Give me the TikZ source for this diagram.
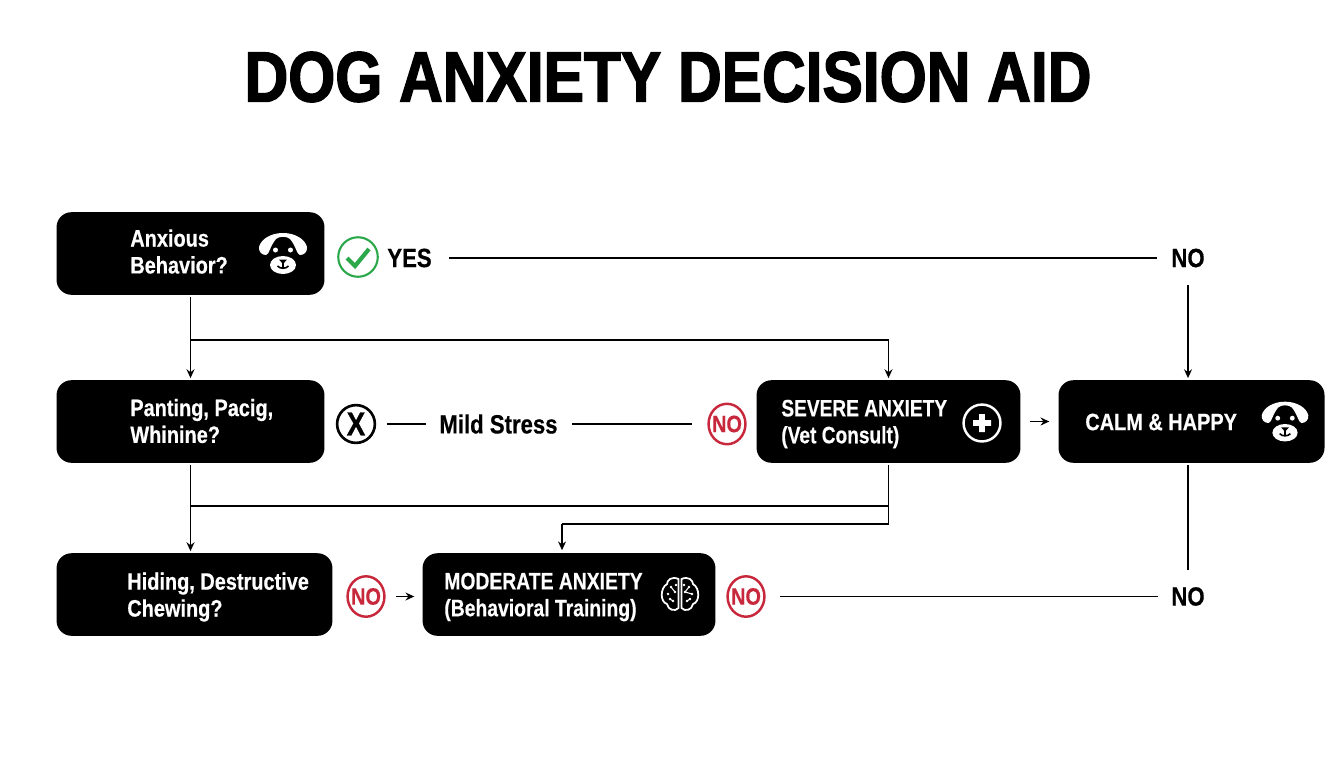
\documentclass[tikz,border=0pt]{standalone}
\usepackage{fontspec}
\setmainfont{Liberation Sans}[FakeStretch=0.84,BoldFont=* Bold,BoldFeatures={FakeBold=0.5}]
\newfontfamily\titlefont{Liberation Sans Bold}[FakeStretch=0.85,FakeBold=2]
\usetikzlibrary{arrows.meta,shapes.geometric}

\definecolor{nored}{HTML}{C8283C}
\definecolor{yesgreen}{HTML}{2BA84A}
\tikzset{
  qbox/.style={fill=black,rounded corners=8.5pt,minimum height=47pt,inner sep=0pt},
  boxtext/.style={text=white,font=\fontsize{13.5}{15.3}\selectfont\bfseries,align=left,anchor=west,inner sep=0pt},
  plaintext/.style={text=black,font=\fontsize{15}{16}\selectfont\bfseries,inner sep=0pt},
  noring/.style={draw=nored,line width=1.4pt,ellipse,minimum width=21pt,minimum height=23pt,inner sep=-3pt,text=nored,
    font=\fontsize{13.5}{14}\selectfont\bfseries},
  flow/.style={line width=1pt,black},
  flowarrow/.style={flow,-{Stealth[length=5pt,width=4.5pt]}},
  dogicon/.pic={
    \fill[white] (-24,-8) .. controls (-22,-16) and (-12,-22) .. (0,-22)
      .. controls (12,-22) and (22,-16) .. (24,-8) .. controls (24.5,-3) and (21,0) .. (17,0)
      .. controls (14,0) and (13,-9) .. (7,-16) .. controls (4,-19) and (-4,-19) .. (-7,-16)
      .. controls (-13,-9) and (-14,0) .. (-17,0) .. controls (-21,0) and (-24.5,-3) .. (-24,-8) -- cycle;
    \fill[white] (0,10) ellipse [x radius=13,y radius=9];
    \fill[white] (-7.5,-5) circle [radius=2.5] (7.5,-5) circle [radius=2.5];
    \fill[black] (-4,4.5) -- (4,4.5) -- (0,9) -- cycle;
    \draw[black,line width=0.9pt] (-5.5,11) .. controls (-3,14) and (3,14) .. (5.5,11) (0,8) -- (0,12.5);
  },
  brainicon/.pic={
    \draw[white,line width=1pt] (-1.5,-17) .. controls (-8,-20) and (-13,-16) .. (-13,-12)
      .. controls (-20,-8) and (-20,6) .. (-13,8) .. controls (-12,14) and (-5,16) .. (-1.5,12) -- cycle;
    \draw[white,line width=1pt] (1.5,-17) .. controls (8,-20) and (13,-16) .. (13,-12)
      .. controls (20,-8) and (20,6) .. (13,8) .. controls (12,14) and (5,16) .. (1.5,12) -- cycle;
    \foreach \dx/\dy in {-9/-9,-5/-4,-12/-2,-7/5,-4/-11,-10/3,9/-9,5/-4,12/-2,7/5,4/-11,10/3}
      \fill[white] (\dx,\dy) circle [radius=1.3];
    \draw[white,line width=0.6pt] (-9,-9) -- (-5,-4) (-7,5) -- (-10,3) (9,-9) -- (5,-4) (7,5) -- (10,3) (5,-4) -- (12,-2);
  },
}

\begin{document}
\begin{tikzpicture}[x=0.02cm,y=-0.02cm]
\useasboundingbox (0,0) rectangle (1344,768);

\node[font=\fontsize{40.5}{44}\titlefont,inner sep=0pt] (title) at (668,77) {DOG ANXIETY DECISION AID};

% boxes
\node[qbox,minimum width=152.5pt] (anx) at (190.5,253.5) {};
\node[qbox,minimum width=152.5pt] (pant) at (190.5,421.5) {};
\node[qbox,minimum width=157pt] (hide) at (194.5,594.5) {};
\node[qbox,minimum width=166.7pt] (mod) at (569,594.5) {};
\node[qbox,minimum width=150.2pt] (sev) at (888.5,421.5) {};
\node[qbox,minimum width=151.4pt] (calm) at (1191.5,421.5) {};

\node[boxtext] (anxtext) at (130,251.5) {Anxious\\Behavior?};
\node[boxtext] (panttext) at (130,421) {Panting, Pacig,\\Whinine?};
\node[boxtext] (hidetext) at (127,597) {Hiding, Destructive\\Chewing?};
\node[boxtext,xscale=0.97] (modtext) at (444,597) {MODERATE ANXIETY\\(Behavioral Training)};
\node[boxtext,xscale=0.96] (sevtext) at (781,424) {SEVERE ANXIETY\\(Vet Consult)};
\node[boxtext] (calmtext) at (1085,422) {CALM \& HAPPY};

% icons
\pic at (283,255) {dogicon};
\pic[scale=0.97] at (1285,423) {dogicon};
\pic at (680,596) {brainicon};
\node[circle,draw=white,line width=1.4pt,minimum size=21pt,inner sep=0pt] (plus) at (982,423) {};
\fill[white] (plus.center) ++(-9,-2.8) rectangle ++(18,5.6) (plus.center) ++(-2.8,-9) rectangle ++(5.6,18);

% marks and labels
\node[circle,draw=yesgreen,line width=1.2pt,minimum size=22.5pt,inner sep=0pt] (yesmark) at (358,257) {};
\draw[yesgreen,line width=2.4pt] (347,258) -- (355,266) -- (369,249);
\node[plaintext,anchor=west] (yes) at (387,258) {YES};
\node[plaintext] (noa) at (1188,258) {NO};
\node[plaintext] (nob) at (1188,596.5) {NO};
\node[circle,draw=black,line width=1.5pt,minimum size=21.5pt,inner sep=0pt,font=\fontsize{19}{20}\selectfont\bfseries] (xmark) at (356,424) {X};
\node[plaintext] (mild) at (498.5,424) {Mild Stress};
\node[noring] (noc) at (727,424) {NO};
\node[noring] (nod) at (366,596.5) {NO};
\node[noring] (noe) at (746,596.5) {NO};

% connectors
\coordinate (juna) at (190.5,340);
\coordinate (junb) at (190.5,506);
\coordinate (junc) at (888.5,506);
\coordinate (jund) at (888.5,524);
\coordinate (june) at (562,524);
\coordinate (yesend) at (449,258);
\coordinate (modtop) at (562,552);

\draw[flowarrow,shorten <=1pt,shorten >=1pt] (anx.south) -- (pant.north);
\draw[flowarrow,shorten >=1pt] (juna) -| (sev.north);
\draw[flowarrow,shorten <=1pt,shorten >=1pt] (pant.south) -- (pant.south |- hide.north);
\draw[flow] (junb) -- (junc);
\draw[flow,shorten <=1pt] (sev.south) -- (jund) -- (june);
\draw[flowarrow,shorten >=1pt] (june) -- (modtop);
\draw[flow,shorten >=17.5pt] (yesend) -- (noa.center);
\draw[flowarrow,shorten >=1pt] (noa.south) ++(0,17) -- (noa.south |- calm.north);
\draw[flow,shorten <=6pt,shorten >=7.4pt] (xmark) -- (mild);
\draw[flow,shorten <=8pt,shorten >=8.5pt] (mild) -- (noc);
\draw[flowarrow,shorten <=5pt,shorten >=5pt] (sev.east) -- (calm.west);
\draw[flowarrow,shorten <=6pt,shorten >=4.5pt] (nod) -- (mod.west |- nod);
\draw[flow,shorten <=8pt,shorten >=7.4pt] (noe) -- (nob);
\draw[flow,shorten <=1pt,shorten >=15.3pt] (calm.south -| nob) -- (nob.center);
\end{tikzpicture}
\end{document}
